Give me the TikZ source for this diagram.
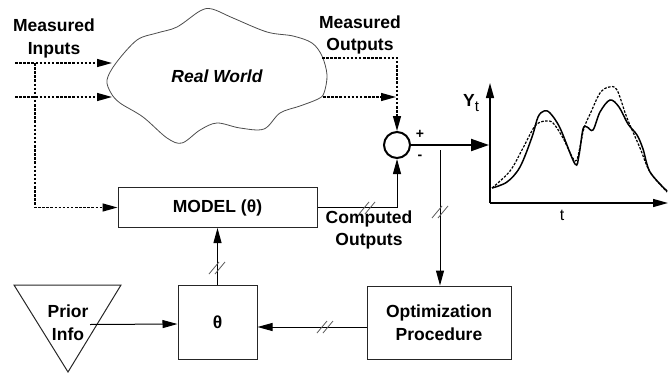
\documentclass[tikz,border=0pt]{standalone}
\usepackage{fontspec}
\setmainfont{Liberation Sans}
\usetikzlibrary{arrows.meta,calc}
\begin{document}
\begin{tikzpicture}[x=1pt,y=-1pt,
  lbl/.style={font=\fontsize{17.5}{22.5}\selectfont\bfseries, align=center, inner sep=0pt},
  box/.style={draw=black!85, line width=1pt, inner sep=0pt},
  arr/.style={-{Triangle[length=15pt,width=8pt]}},
  wire/.style={line width=1pt},
  dots/.style={line width=1.3pt, dash pattern=on 2.5pt off 1.6pt},
  slashmk/.style={draw=black!65, line width=0.8pt},
  axis/.style={line width=1.4pt, -{Triangle[length=15pt,width=8pt]}}
]
\useasboundingbox (0,0) rectangle (668,372);

% cloud
\draw[black!70, line width=0.8pt] plot[smooth cycle, tension=0.55] coordinates {
 (107,80) (116,63) (137,40) (157,33) (177,27) (200,11) (212,9) (233,18)
 (267,32) (293,36) (312,43) (322,56) (327,75) (324,93) (318,99) (300,106)
 (280,113) (264,129) (240,128) (217,123) (200,130) (182,143) (167,138)
 (143,117) (120,103) (111,93)};
\node[lbl] (rw) at (217,76) {\itshape Real World};

% texts
\node[lbl] (mi) at (54,38.5) {Measured\\Inputs};
\node[lbl] (mo) at (360,35) {Measured\\Outputs};
\node[lbl] (co) at (369,230) {Computed\\Outputs};

% boxes
\node[box, lbl, minimum width=199, minimum height=40] (model) at (217.5,207.5) {MODEL (θ)};
\node[box, lbl, minimum width=79, minimum height=74] (theta) at (217.5,322) {θ};
\node[box, lbl, minimum width=144, minimum height=73] (opt) at (439,322.5) {Optimization\\Procedure};
\node[draw, circle, line width=2pt, minimum size=26, inner sep=0pt] (sum) at (397,145) {};

% prior triangle
\draw[line width=1pt, black!85] (14,285) -- (121,285) -- (68,372) -- cycle;
\node[lbl] (prior) at (68,322.5) {Prior\\Info};

% signs
\node[font=\fontsize{14}{14}\selectfont\bfseries, inner sep=0pt] (plus) at (420,134) {+};
\node[font=\fontsize{14}{14}\selectfont\bfseries, inner sep=0pt] (minus) at (420,157) {-};

% coordinates
\coordinate (i1) at (15,63);
\coordinate (e1) at (112,63);
\coordinate (i2) at (15,97);
\coordinate (e2) at (112,97);
\coordinate (j) at (35,63);
\coordinate (o1) at (322,58);
\coordinate (o2) at (323,97);
\coordinate (m2) at (396,97);
\coordinate (yhit) at (489,145);
\coordinate (br) at (440,150);
\coordinate (pa) at (90,324.5);
\coordinate (O) at (490,203);
\coordinate (ytop) at (490,83);
\coordinate (xend) at (668,203);

% dotted connections
\draw[dots, arr] (i1) -- (e1);
\draw[dots, arr] (i2) -- (e2);
\draw[dots, arr] (j) |- (model.west);
\draw[dots, arr] (o1) -| (sum.north);
\draw[dots, arr] (o2) -- (m2);

% solid connections
\draw[wire, arr] (model.east) -| (sum.south);
\draw[line width=2pt, -{Triangle[length=18pt,width=12pt]}] (sum.east) -- (yhit);
\draw[wire, arr] (br) -- (br |- opt.north);
\draw[wire, arr] ($(opt.west)+(0,4.5)$) -- ($(theta.east)+(0,5)$);
\draw[wire, arr] (pa) -- ($(theta.west)+(0,2)$);
\draw[wire, arr] (theta.north) -- (model.south);

% slash marks
\foreach \p in {(217,268),(367,208),(325,327),(440,212)}
  \draw[slashmk] \p ++(-8,6) -- ++(10,-12) \p ++(-2,6) -- ++(10,-12);

% graph
\draw[axis] (O) -- (ytop);
\draw[axis] (O) -- (xend);
\node[inner sep=0pt, font=\fontsize{17.5}{20}\selectfont] (ylab) at (471,103) {\bfseries Y\raisebox{-5pt}{\mdseries\fontsize{15}{15}\selectfont t}};
\node[inner sep=0pt, font=\fontsize{16}{18}\selectfont] (tlab) at (562,215) {t};

\draw[line width=1.5pt] plot[smooth, tension=0.55] coordinates {
 (492,188) (507,182) (520,167) (532,137) (538,117) (544,111) (550,113) (560,128)
 (575,164) (579,155) (583,129) (587,127) (593,130) (600,112) (610,100) (619,107)
 (628,124) (637,135) (643,149) (650,172) (667,191)};
\draw[line width=1.2pt, dash pattern=on 2.5pt off 1.5pt] plot[smooth, tension=0.55] coordinates {
 (492,188) (510,171) (523,148) (535,126) (545,121) (553,123) (563,138) (575,161)
 (580,147) (584,128) (591,112) (600,93) (609,87) (617,90) (627,118) (640,148)
 (650,172) (667,192)};
\end{tikzpicture}
\end{document}
